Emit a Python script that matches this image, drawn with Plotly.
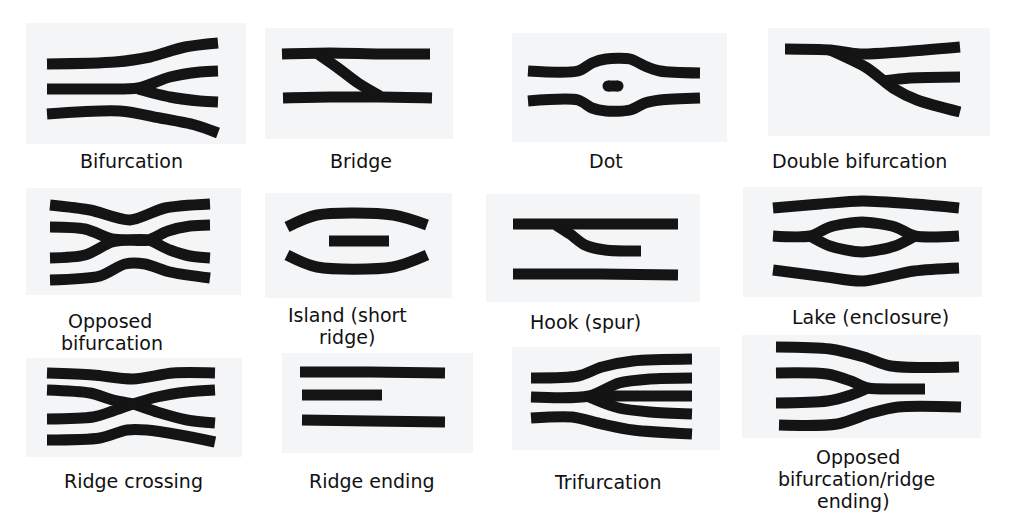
import plotly.graph_objects as go

# ridge drawings, one list of polylines per minutia, in page pixels (x, y down)
bifurcation = [
    [(47, 64), (115, 62), (150, 57), (185, 47), (218, 43)],
    [(47, 89), (100, 89), (138, 88), (170, 77), (200, 72), (218, 71)],
    [(138, 89), (170, 97), (200, 101), (218, 102)],
    [(47, 114), (120, 111), (160, 118), (195, 125), (218, 133)],
]
bridge = [
    [(282, 54), (330, 53), (380, 54), (430, 54)],
    [(283, 98), (330, 97), (380, 97), (432, 98)],
    [(318, 54), (338, 68), (358, 83), (380, 96)],
]
dot = [
    [(528, 71), (578, 71), (592, 63), (606, 59), (630, 59), (645, 66), (660, 71), (700, 73)],
    [(528, 101), (578, 100), (592, 108), (606, 111), (630, 110), (645, 103), (660, 100), (700, 98)],
]
# the dot itself, drawn with round ends
dot_blob = [(608, 86), (618, 86)]
double_bifurcation = [
    [(785, 49), (830, 50), (860, 54), (900, 52), (960, 47)],
    [(830, 50), (867, 68), (893, 88), (917, 100), (960, 112)],
    [(883, 81), (910, 78), (960, 77)],
]
opposed_bifurcation = [
    [(50, 205), (90, 210), (130, 220), (165, 208), (210, 204)],
    [(50, 227), (85, 229), (112, 239), (130, 240), (148, 240), (168, 231), (190, 226), (210, 225)],
    [(50, 258), (85, 255), (112, 242), (130, 240), (148, 240), (170, 250), (190, 256), (210, 258)],
    [(50, 280), (100, 276), (125, 264), (145, 264), (170, 272), (210, 278)],
]
island = [
    [(287, 227), (317, 215), (393, 215), (427, 225)],
    [(287, 255), (317, 267), (393, 267), (427, 255)],
    [(329, 241), (389, 241)],
]
hook = [
    [(513, 224), (600, 224), (678, 224)],
    [(556, 225), (570, 234), (585, 245), (605, 250), (641, 251)],
    [(513, 274), (600, 274), (678, 275)],
]
lake = [
    [(773, 208), (820, 204), (862, 201), (915, 204), (959, 208)],
    [(773, 236), (810, 236), (830, 227), (862, 222), (895, 227), (915, 236), (959, 236)],
    [(810, 236), (830, 246), (862, 252), (895, 246), (915, 236)],
    [(773, 270), (827, 277), (862, 281), (914, 271), (959, 268)],
]
ridge_crossing = [
    [(47, 373), (93, 375), (133, 379), (173, 373), (215, 373)],
    [(47, 390), (90, 393), (113, 400), (133, 404), (157, 412), (187, 420), (215, 423)],
    [(47, 419), (93, 417), (113, 411), (133, 404), (157, 397), (187, 392), (215, 390)],
    [(47, 440), (100, 438), (127, 430), (147, 430), (180, 435), (215, 442)],
]
ridge_ending = [
    [(300, 372), (370, 372), (445, 373)],
    [(302, 395), (340, 395), (382, 395)],
    [(302, 420), (370, 421), (445, 422)],
]
trifurcation = [
    [(531, 378), (578, 376), (602, 367), (633, 361), (692, 359)],
    [(531, 397), (589, 396), (619, 383), (650, 379), (692, 378)],
    [(589, 396), (640, 396), (692, 396)],
    [(589, 397), (619, 408), (650, 412), (692, 414)],
    [(531, 418), (572, 417), (602, 424), (633, 430), (692, 434)],
]
opposed_bif_ending = [
    [(776, 347), (830, 349), (864, 357), (891, 366), (959, 367)],
    [(776, 373), (827, 374), (851, 381), (868, 388), (900, 389), (925, 389)],
    [(776, 403), (827, 401), (851, 395), (868, 388)],
    [(779, 425), (837, 424), (871, 413), (898, 407), (961, 407)],
]

panels = [bifurcation, bridge, dot, double_bifurcation,
          opposed_bifurcation, island, hook, lake,
          ridge_crossing, ridge_ending, trifurcation, opposed_bif_ending]

# light grey tiles behind each drawing: x0, y0, x1, y1
tiles = [
    (26, 23, 246, 144), (265, 28, 453, 139), (512, 33, 727, 142), (768, 28, 990, 136),
    (26, 188, 241, 295), (265, 193, 452, 298), (486, 194, 700, 302), (743, 187, 982, 297),
    (26, 358, 242, 457), (282, 353, 473, 453), (512, 347, 720, 450), (742, 335, 981, 438),
]

# caption lines
label_text = ["Bifurcation", "Bridge", "Dot", "Double bifurcation",
              "Opposed", "bifurcation", "Island (short", "ridge)", "Hook (spur)", "Lake (enclosure)",
              "Ridge crossing", "Ridge ending", "Trifurcation",
              "Opposed", "bifurcation/ridge", "ending)"]
label_x = [131, 361, 606, 859, 110, 112, 347, 347, 585, 870, 133, 372, 608, 858, 856, 853]
label_y = [161, 161, 161, 161, 321, 343, 315, 337, 322, 317, 481, 481, 482, 457, 479, 501]

INK = "#141414"

fig = go.Figure()

for x0, y0, x1, y1 in tiles:
    fig.add_shape(type="rect", x0=x0, y0=y0, x1=x1, y1=y1,
                  fillcolor="#f4f5f7", line_width=0, layer="below")

for ridges in panels:
    for r in ridges:
        fig.add_trace(go.Scatter(
            x=[p[0] for p in r], y=[p[1] for p in r],
            mode="lines", line=dict(color=INK, width=11, shape="spline", smoothing=0.8),
            hoverinfo="skip", showlegend=False))

fig.add_trace(go.Scatter(
    x=[p[0] for p in dot_blob], y=[p[1] for p in dot_blob],
    mode="lines+markers", line=dict(color=INK, width=11),
    marker=dict(color=INK, size=11, line_width=0),
    hoverinfo="skip", showlegend=False))

for t, x, y in zip(label_text, label_x, label_y):
    fig.add_annotation(x=x, y=y, text=t, showarrow=False,
                       font=dict(family="DejaVu Sans", size=19, color="#111111"))

fig.update_xaxes(range=[0, 1024], visible=False)
fig.update_yaxes(range=[512, 0], visible=False)
fig.update_layout(width=1024, height=512, margin=dict(l=0, r=0, t=0, b=0),
                  paper_bgcolor="white", plot_bgcolor="white")

# page body has a default 8px margin, drop it so the figure sits at 0,0
fig.write_html("out.html", config={"displayModeBar": False},
               post_script="document.body.style.margin='0';")
